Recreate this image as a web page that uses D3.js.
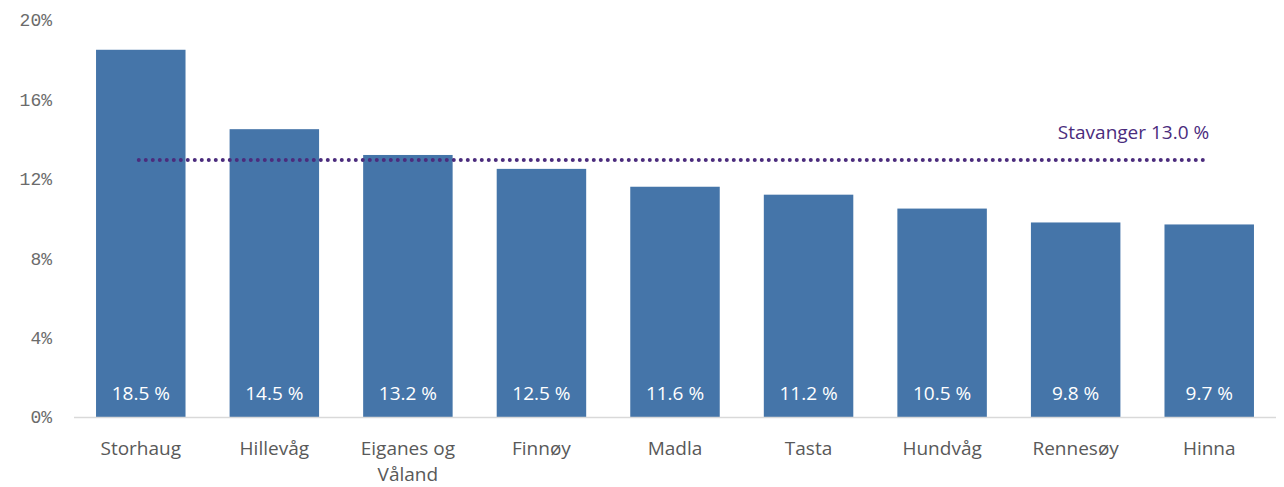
<!DOCTYPE html>
<meta charset="utf-8">
<script src="https://d3js.org/d3.v7.min.js"></script>
<style>
  body { margin: 0; background: #fff; }
</style>
<div id="my_dataviz"></div>
<script>
  // data
  var categories = ["Storhaug", "Hillevåg", "Eiganes og Våland", "Finnøy", "Madla", "Tasta", "Hundvåg", "Rennesøy", "Hinna"];
  var values = [18.5, 14.5, 13.2, 12.5, 11.6, 11.2, 10.5, 9.8, 9.7];
  var yTicks = [0, 4, 8, 12, 16, 20];
  var refLabel = "Stavanger";
  var refValue = 13.0;

  var width = 1284, height = 487;
  var margin = { top: 20, right: 8, bottom: 70, left: 74 };

  var svg = d3.select("#my_dataviz")
    .append("svg")
    .attr("width", width)
    .attr("height", height);

  var x = d3.scaleBand()
    .domain(categories)
    .range([margin.left, width - margin.right])
    .paddingInner(0.33)
    .paddingOuter(0.165);

  var y = d3.scaleLinear()
    .domain([0, 20])
    .range([height - margin.bottom, margin.top]);

  // y axis labels (no line)
  svg.selectAll(".ytick")
    .data(yTicks)
    .enter()
    .append("text")
    .attr("x", 52)
    .attr("y", function (d) { return y(d); })
    .attr("dy", "0.35em")
    .attr("text-anchor", "end")
    .style("font-family", "'Liberation Mono', 'DejaVu Sans Mono', monospace")
    .style("font-size", "18px")
    .style("fill", "#6b6b6b")
    .text(function (d) { return d + "%"; });

  // bars
  svg.selectAll("rect.bar")
    .data(values)
    .enter()
    .append("rect")
    .attr("class", "bar")
    .attr("x", function (d, i) { return x(categories[i]); })
    .attr("y", function (d) { return y(d); })
    .attr("width", x.bandwidth())
    .attr("height", function (d) { return y(0) - y(d); })
    .attr("fill", "#4575a9");

  // baseline
  svg.append("line")
    .attr("x1", margin.left)
    .attr("x2", width - margin.right)
    .attr("y1", y(0) + 0.5)
    .attr("y2", y(0) + 0.5)
    .attr("stroke", "#d9d9d9")
    .attr("stroke-width", 1.5);

  // value labels
  svg.selectAll(".vlab")
    .data(values)
    .enter()
    .append("text")
    .attr("x", function (d, i) { return x(categories[i]) + x.bandwidth() / 2; })
    .attr("y", y(0) - 17)
    .attr("text-anchor", "middle")
    .style("font-family", "'Open Sans', 'Noto Sans', sans-serif")
    .style("font-size", "19px")
    .style("fill", "#ffffff")
    .text(function (d) { return d.toFixed(1) + " %"; });

  // category labels, wrap "Eiganes og Våland"
  var catText = svg.selectAll(".clab")
    .data(categories)
    .enter()
    .append("text")
    .attr("x", function (d) { return x(d) + x.bandwidth() / 2; })
    .attr("y", y(0) + 38)
    .attr("text-anchor", "middle")
    .style("font-family", "'Open Sans', 'Noto Sans', sans-serif")
    .style("font-size", "19px")
    .style("fill", "#595959");
  catText.each(function (d) {
    var parts = d === "Eiganes og Våland" ? ["Eiganes og", "Våland"] : [d];
    var t = d3.select(this);
    var cx = x(d) + x.bandwidth() / 2;
    parts.forEach(function (p, i) {
      t.append("tspan").attr("x", cx).attr("dy", i === 0 ? 0 : 26).text(p);
    });
  });

  // reference dotted line
  var x1 = x(categories[0]) + x.bandwidth() / 2 - 2;
  var x2 = x(categories[categories.length - 1]) + x.bandwidth() / 2;
  svg.append("line")
    .attr("x1", x1)
    .attr("x2", x2)
    .attr("y1", y(refValue) + 1)
    .attr("y2", y(refValue) + 1)
    .attr("stroke", "#4b2c7d")
    .attr("stroke-width", 4)
    .attr("stroke-linecap", "round")
    .attr("stroke-dasharray", "0 7");

  svg.append("text")
    .attr("x", x2)
    .attr("y", y(refValue) - 20)
    .attr("text-anchor", "end")
    .style("font-family", "'Open Sans', 'Noto Sans', sans-serif")
    .style("font-size", "19px")
    .style("fill", "#4b2c7d")
    .text(refLabel + " " + refValue.toFixed(1) + " %");
</script>
